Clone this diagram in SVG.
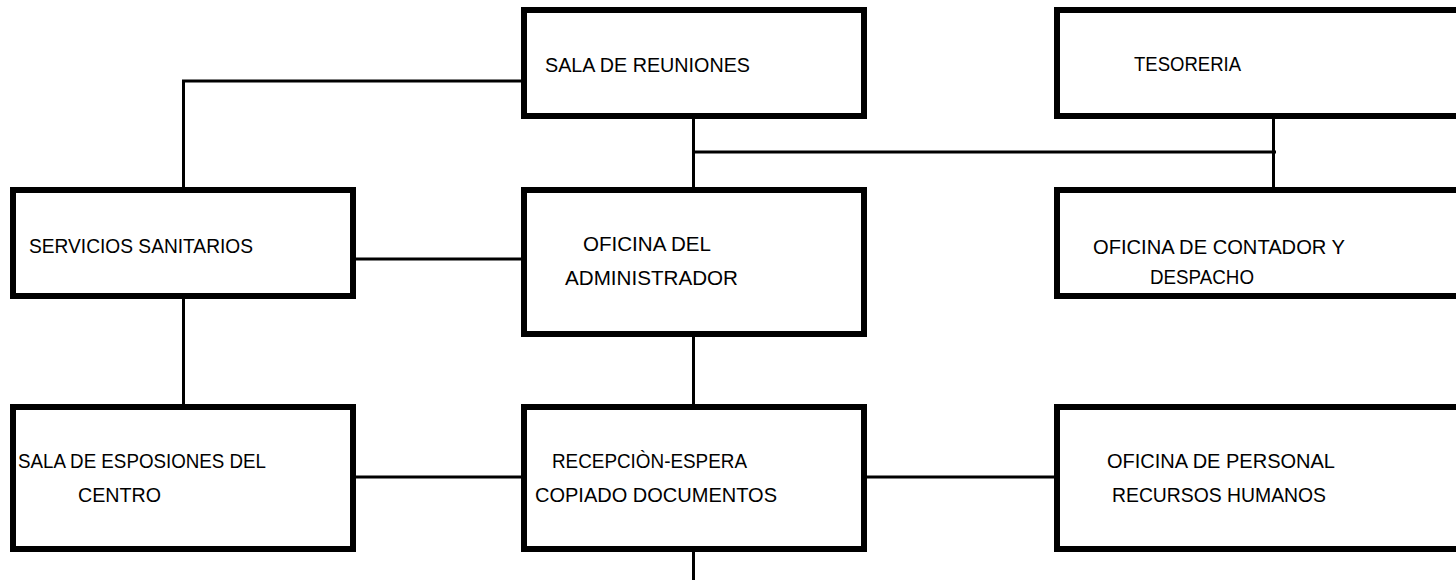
<svg xmlns="http://www.w3.org/2000/svg" width="1456" height="580" viewBox="0 0 1456 580">
<style>
.box{fill:#fff;stroke:#000;stroke-width:6}
.conn{stroke:#000;stroke-width:3;fill:none}
text{font-family:"Liberation Sans",Arial,sans-serif;font-size:20px;fill:#000}
</style>
<rect width="1456" height="580" fill="#fff"/>
<g id="connectors">
<polyline class="conn" points="521,81 183.5,81 183.5,187"/>
<line class="conn" x1="183.5" y1="299" x2="183.5" y2="404"/>
<line class="conn" x1="356" y1="259" x2="521" y2="259"/>
<line class="conn" x1="693.5" y1="119" x2="693.5" y2="187"/>
<line class="conn" x1="693.5" y1="152" x2="1276" y2="152"/>
<line class="conn" x1="1273.5" y1="119" x2="1273.5" y2="187"/>
<line class="conn" x1="693.5" y1="337" x2="693.5" y2="404"/>
<line class="conn" x1="356" y1="477" x2="521" y2="477"/>
<line class="conn" x1="867" y1="477" x2="1054" y2="477"/>
<line class="conn" x1="693.5" y1="552" x2="693.5" y2="580"/>
</g>
<g id="sala-reuniones">
<rect class="box" x="524" y="10" width="340" height="106"/>
<text x="545" y="72" textLength="205" lengthAdjust="spacingAndGlyphs">SALA DE REUNIONES</text>
</g>
<g id="tesoreria">
<rect class="box" x="1057" y="10" width="420" height="106"/>
<text x="1134" y="71" textLength="107" lengthAdjust="spacingAndGlyphs">TESORERIA</text>
</g>
<g id="servicios-sanitarios">
<rect class="box" x="13" y="190" width="340" height="106"/>
<text x="29" y="253" textLength="224" lengthAdjust="spacingAndGlyphs">SERVICIOS SANITARIOS</text>
</g>
<g id="oficina-administrador">
<rect class="box" x="524" y="190" width="340" height="144"/>
<text x="583" y="251" textLength="128" lengthAdjust="spacingAndGlyphs">OFICINA DEL</text>
<text x="565" y="285" textLength="173" lengthAdjust="spacingAndGlyphs">ADMINISTRADOR</text>
</g>
<g id="oficina-contador">
<rect class="box" x="1057" y="190" width="420" height="106"/>
<text x="1093" y="254" textLength="252" lengthAdjust="spacingAndGlyphs">OFICINA DE CONTADOR Y</text>
<text x="1150" y="284" textLength="104" lengthAdjust="spacingAndGlyphs">DESPACHO</text>
</g>
<g id="sala-esposiones">
<rect class="box" x="13" y="407" width="340" height="142"/>
<text x="18" y="468" textLength="248" lengthAdjust="spacingAndGlyphs">SALA DE ESPOSIONES DEL</text>
<text x="78" y="502" textLength="83" lengthAdjust="spacingAndGlyphs">CENTRO</text>
</g>
<g id="recepcion-espera">
<rect class="box" x="524" y="407" width="340" height="142"/>
<text x="552" y="468" textLength="195" lengthAdjust="spacingAndGlyphs">RECEPCIÒN-ESPERA</text>
<text x="535" y="502" textLength="242" lengthAdjust="spacingAndGlyphs">COPIADO DOCUMENTOS</text>
</g>
<g id="oficina-personal">
<rect class="box" x="1057" y="407" width="420" height="142"/>
<text x="1107" y="468" textLength="228" lengthAdjust="spacingAndGlyphs">OFICINA DE PERSONAL</text>
<text x="1112" y="502" textLength="214" lengthAdjust="spacingAndGlyphs">RECURSOS HUMANOS</text>
</g>
</svg>
